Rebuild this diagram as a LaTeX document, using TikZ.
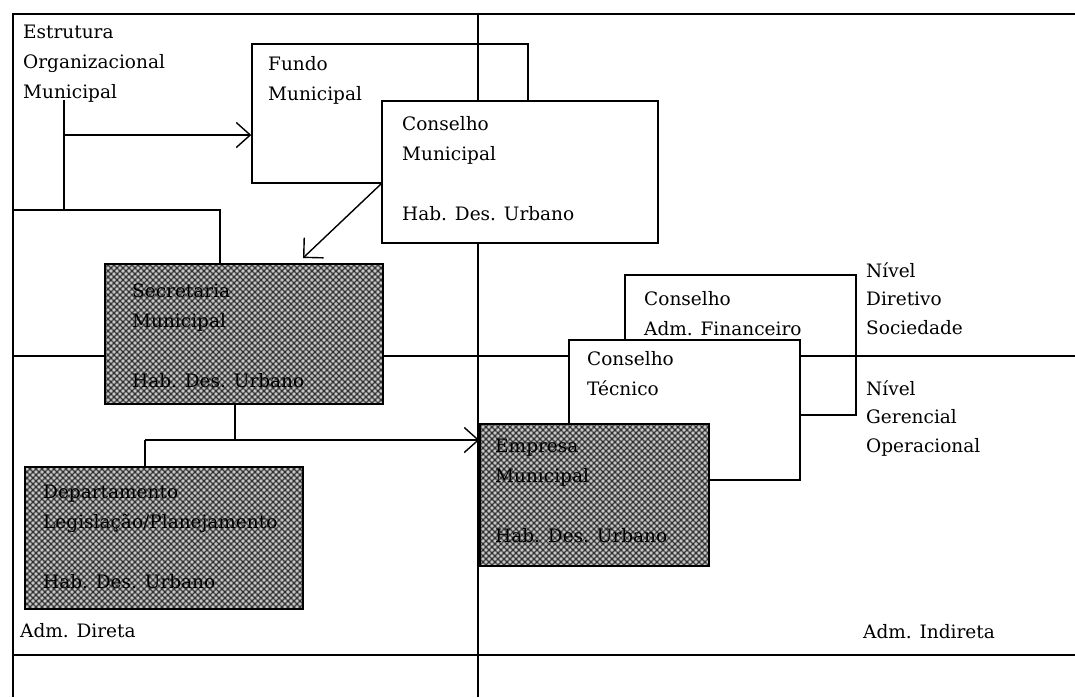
\documentclass[tikz,border=0pt]{standalone}
\usepackage{fontspec}
\setmainfont{DejaVu Serif}
\usetikzlibrary{arrows.meta,patterns.meta}

\tikzset{
  frameline/.style={line width=1.4pt},
  box/.style={draw, rectangle, line width=1.4pt, inner sep=0pt},
  whitebox/.style={box, fill=white},
  hatchbox/.style={box,
    preaction={fill=gray!45},
    preaction={pattern={Lines[angle=45,distance=4.2426pt,line width=1.1pt]}, pattern color=black!80},
    pattern={Lines[angle=-45,distance=4.2426pt,line width=1.1pt]}, pattern color=black!80},
  % multi-line texts are placed by the baseline of their last line
  txt/.style={anchor=base west, inner sep=0pt, align=left, font=\fontsize{18.5}{30}\selectfont},
  tighttxt/.style={txt, font=\fontsize{18.5}{28.5}\selectfont},
  link/.style={line width=1.4pt},
  barb/.style={-{Straight Barb[length=14pt,width=25pt,line width=1.4pt]}},
  diagbarb/.style={-{Straight Barb[length=14pt,width=28pt,line width=1.4pt]}}
}

\begin{document}
\begin{tikzpicture}[x=1pt,y=-1pt]
\useasboundingbox (0,0) rectangle (1075,697);
\fill[white] (0,0) rectangle (1075,697);

% frame and dividing lines
\draw[frameline, line width=2pt] (13,14) -- (1075,14);
\draw[frameline, line width=2.5pt] (13,13) -- (13,697);
\draw[frameline] (13,655) -- (1075,655);
\draw[frameline] (478,14) -- (478,697);
\draw[frameline] (13,356) -- (1075,356);

% boxes, back to front
\node[box, minimum width=276pt, minimum height=139pt] (fundo) at (390,113.5) {};
\node[whitebox, minimum width=276pt, minimum height=142pt] (conselhoM) at (520,172) {};
\node[hatchbox, minimum width=278pt, minimum height=140pt] (secretaria) at (244,334) {};
\node[hatchbox, minimum width=278pt, minimum height=142pt] (departamento) at (164,538) {};
\node[box, minimum width=231pt, minimum height=140pt] (financeiro) at (740.5,345) {};
\node[whitebox, minimum width=231pt, minimum height=140pt] (tecnico) at (684.5,410) {};
\node[hatchbox, minimum width=229pt, minimum height=142pt] (empresa) at (594.5,495) {};

% texts
\node[txt] (estrutura) at (23,98) {Estrutura\\Organizacional\\Municipal};
\node[txt] (tfundo) at (268,100) {Fundo\\Municipal};
\node[txt] (tconselhoM) at (402,220) {Conselho\\Municipal\\[30pt]Hab. Des. Urbano};
\node[txt] (tsecretaria) at (132,387) {Secretaria\\Municipal\\[30pt]Hab. Des. Urbano};
\node[txt] (tdepartamento) at (43,588) {Departamento\\Legislação/Planejamento\\[30pt]Hab. Des. Urbano};
\node[txt] (direta) at (20,637) {Adm. Direta};
\node[txt] (tempresa) at (495,542) {Empresa\\Municipal\\[30pt]Hab. Des. Urbano};
\node[txt] (tfinanceiro) at (644,335) {Conselho\\Adm. Financeiro};
\node[txt] (ttecnico) at (587,395) {Conselho\\Técnico};
\node[tighttxt] (diretivo) at (866,334) {Nível\\Diretivo\\Sociedade};
\node[tighttxt] (gerencial) at (866,452) {Nível\\Gerencial\\Operacional};
\node[txt] (indireta) at (863,638) {Adm. Indireta};

% connectors
\coordinate (eTop) at (64,100);
\coordinate (eJoin) at (64,210);
\coordinate (eArrow) at (64,135);
\coordinate (lWall) at (13,210);
\coordinate (sTop) at (220,210);
\coordinate (sArrow) at (303,258);
\coordinate (sDrop) at (235,440);
\coordinate (dRise) at (145,440);

\draw[link] (eTop) -- (eJoin);
\draw[link, barb] (eArrow) -- (eArrow -| fundo.west);
\draw[link] (lWall) -- (sTop) -- (sTop |- secretaria.north);
\draw[link, diagbarb] (conselhoM.west |- fundo.south) -- (sArrow);
\draw[link] (secretaria.south -| sDrop) -- (sDrop);
\draw[link, barb] (dRise) -- (dRise -| empresa.west);
\draw[link] (dRise) -- (dRise |- departamento.north);
\end{tikzpicture}
\end{document}
